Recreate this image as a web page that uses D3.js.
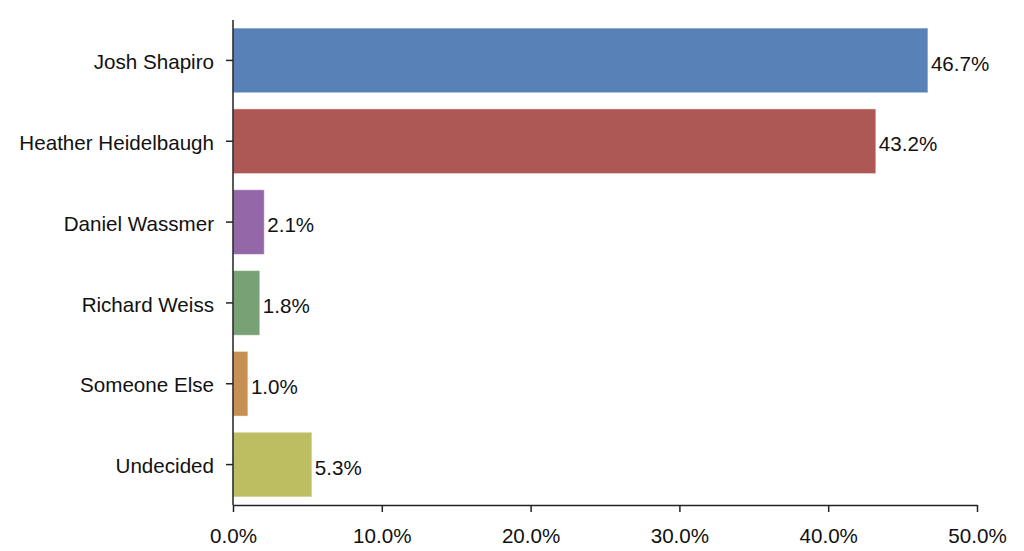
<!DOCTYPE html>
<html>
<head>
<meta charset="utf-8">
<script src="https://cdn.jsdelivr.net/npm/d3@7"></script>
<style>
  html, body { margin: 0; padding: 0; background: #fff; }
  text { font-family: "Liberation Sans", Arial, Helvetica, sans-serif; }
</style>
</head>
<body>
<svg id="chart" width="1024" height="551"></svg>
<script>
const categories = ["Josh Shapiro", "Heather Heidelbaugh", "Daniel Wassmer", "Richard Weiss", "Someone Else", "Undecided"];
const values = [46.7, 43.2, 2.1, 1.8, 1.0, 5.3];
const colors = ["#5881b8", "#ad5855", "#9467a9", "#78a276", "#c69052", "#bdbd62"];
const xTicks = [0, 10, 20, 30, 40, 50];

const svg = d3.select("#chart");
const mLeft = 233, mRight = 977, mTop = 20, mBottom = 505;
const fs = 20.6;

const x = d3.scaleLinear().domain([0, 50]).range([mLeft, mRight]);
const y = d3.scaleBand().domain(categories).range([mTop, mBottom]).paddingInner(0.2).paddingOuter(0.1);

svg.selectAll("rect.bar")
  .data(categories)
  .enter().append("rect")
  .attr("class", "bar")
  .attr("x", x(0))
  .attr("y", d => y(d))
  .attr("width", (d, i) => x(values[i]) - x(0))
  .attr("height", y.bandwidth())
  .attr("fill", (d, i) => colors[i])
  .attr("stroke", "rgba(255,255,255,0.45)")
  .attr("stroke-width", 1);

svg.selectAll("text.val")
  .data(categories)
  .enter().append("text")
  .attr("class", "val")
  .attr("x", (d, i) => x(values[i]) + 3)
  .attr("y", d => y(d) + y.bandwidth() / 2 + 3)
  .attr("dy", "0.35em")
  .attr("font-size", fs)
  .attr("fill", "#111")
  .text((d, i) => values[i].toFixed(1) + "%");

const yAxis = svg.append("g")
  .attr("transform", `translate(${mLeft},0)`)
  .call(d3.axisLeft(y).tickSize(7).tickSizeOuter(0).tickPadding(12));
yAxis.select(".domain").attr("d", `M0,${mTop}V${mBottom}`);
yAxis.selectAll(".tick text").attr("y", 2);

const xAxis = svg.append("g")
  .attr("transform", `translate(0,${mBottom})`)
  .call(d3.axisBottom(x).tickValues(xTicks).tickSize(7).tickSizeOuter(0).tickPadding(16)
    .tickFormat(d => d.toFixed(1) + "%"));

[yAxis, xAxis].forEach(g => {
  g.selectAll(".domain").attr("stroke", "#222").attr("stroke-width", 1.5);
  g.selectAll(".tick line").attr("stroke", "#222").attr("stroke-width", 1.5);
  g.selectAll(".tick text").attr("font-size", fs).attr("fill", "#111")
    .style("font-family", '"Liberation Sans", Arial, Helvetica, sans-serif');
});
</script>
</body>
</html>
